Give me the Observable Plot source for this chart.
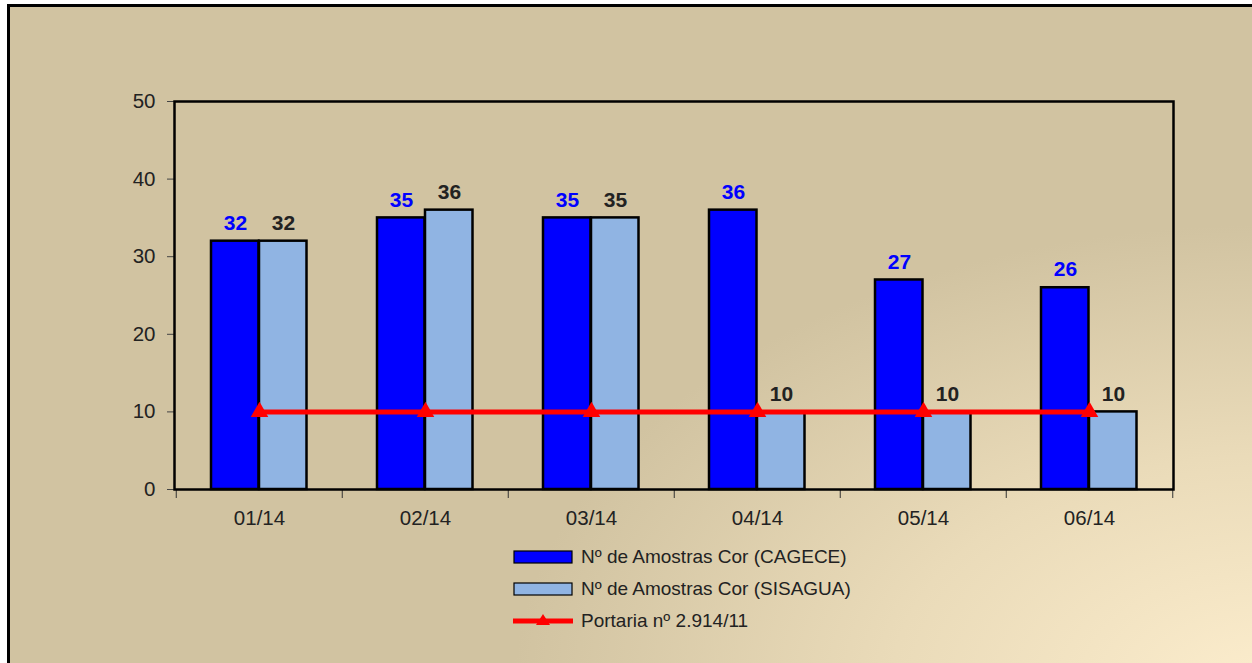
<!DOCTYPE html>
<html>
<head>
<meta charset="utf-8">
<script src="https://cdn.jsdelivr.net/npm/d3@7"></script>
<script src="https://cdn.jsdelivr.net/npm/@observablehq/plot@0.6"></script>
<style>
  html, body { margin: 0; padding: 0; width: 1252px; height: 663px; overflow: hidden; }
  body { position: relative; font-family: "Liberation Sans", Arial, sans-serif; }
  #bg {
    position: absolute; left: 7px; top: 4px; width: 1260px; height: 680px;
    border-left: 3px solid #000; border-top: 3px solid #000;
    background: radial-gradient(ellipse 75% 85% at 100% 100%, #FCEDCD 0%, #EADBB9 40%, #D1C3A1 80%, #D1C3A1 100%);
  }
  #chart { position: absolute; left: 0; top: 0; }
  #legend { position: absolute; left: 513px; top: 541px; font-size: 19px; color: #222; }
  .row { display: flex; align-items: center; height: 32px; }
  .row svg { margin-right: 8px; }
</style>
</head>
<body>
<div id="bg"></div>
<div id="chart"></div>
<div id="legend"></div>
<script>
const categories = ["01/14", "02/14", "03/14", "04/14", "05/14", "06/14"];
const cagece = [32, 35, 35, 36, 27, 26];
const sisagua = [32, 36, 35, 10, 10, 10];
const portaria = [10, 10, 10, 10, 10, 10];
const yTicks = [0, 10, 20, 30, 40, 50];
const seriesNames = ["Nº de Amostras Cor (CAGECE)", "Nº de Amostras Cor (SISAGUA)", "Portaria nº 2.914/11"];
const colors = { cagece: "#0000FF", sisagua: "#90B4E3", portaria: "#FF0000" };

const dataC = categories.map((c, i) => ({ cat: c, v: cagece[i] }));
const dataS = categories.map((c, i) => ({ cat: c, v: sisagua[i] }));
const dataP = categories.map((c, i) => ({ cat: c, v: portaria[i] }));

const W = 1252, H = 545;
const mL = 174, mR = 79, mT = 101, mB = 56;
const bw = (W - mL - mR) / categories.length;

const chart = Plot.plot({
  width: W, height: H,
  marginLeft: mL, marginRight: mR, marginTop: mT, marginBottom: mB,
  style: { background: "transparent", fontFamily: "'Liberation Sans', Arial, sans-serif", color: "#222" },
  x: { domain: categories, padding: 0 },
  y: { domain: [0, 50] },
  marks: [
    Plot.axisY({ ticks: yTicks, tickSize: 7, tickPadding: 12, fontSize: 20.5, label: null, stroke: "#444", fill: "#222" }),
    Plot.axisX({ tickSize: 0, tickPadding: 21, fontSize: 20.5, label: null, fill: "#222" }),
    Plot.axisX({ tickSize: 9, text: null, dx: -bw / 2, stroke: "#333", label: null }),
    Plot.axisX({ ticks: [categories[categories.length - 1]], tickSize: 9, text: null, dx: bw / 2, stroke: "#333", label: null }),
    Plot.rectY(dataC, { x: "cat", y: "v", fill: colors.cagece, stroke: "#000", strokeWidth: 2.5, insetLeft: 35, insetRight: bw - 83 }),
    Plot.rectY(dataS, { x: "cat", y: "v", fill: colors.sisagua, stroke: "#000", strokeWidth: 2.5, insetLeft: 83, insetRight: bw - 131 }),
    Plot.frame({ stroke: "#000", strokeWidth: 2.5 }),
    Plot.lineY(dataP, { x: "cat", y: "v", stroke: colors.portaria, strokeWidth: 5 }),
    Plot.dot(dataP, { x: "cat", y: "v", symbol: "triangle", r: 6.5, fill: colors.portaria }),
    Plot.text(dataC, { x: "cat", y: "v", text: d => String(d.v), dx: -24, dy: -18, fill: colors.cagece, fontWeight: "bold", fontSize: 21 }),
    Plot.text(dataS, { x: "cat", y: "v", text: d => String(d.v), dx: 24, dy: -18, fill: "#222", fontWeight: "bold", fontSize: 21 })
  ]
});
document.getElementById("chart").appendChild(chart);

const legend = document.getElementById("legend");
function row(name, kind) {
  const div = document.createElement("div");
  div.className = "row";
  let sw;
  if (kind === "line") {
    sw = `<svg width="60" height="16"><line x1="0" y1="8" x2="60" y2="8" stroke="${colors.portaria}" stroke-width="5"/><path d="M30,1 L37,12 L23,12 Z" fill="${colors.portaria}"/></svg>`;
  } else {
    sw = `<svg width="60" height="16"><rect x="1" y="2" width="58" height="12" fill="${colors[kind]}" stroke="#000" stroke-width="1.2"/></svg>`;
  }
  div.innerHTML = sw + `<span>${name}</span>`;
  legend.appendChild(div);
}
row(seriesNames[0], "cagece");
row(seriesNames[1], "sisagua");
row(seriesNames[2], "line");
</script>
</body>
</html>
